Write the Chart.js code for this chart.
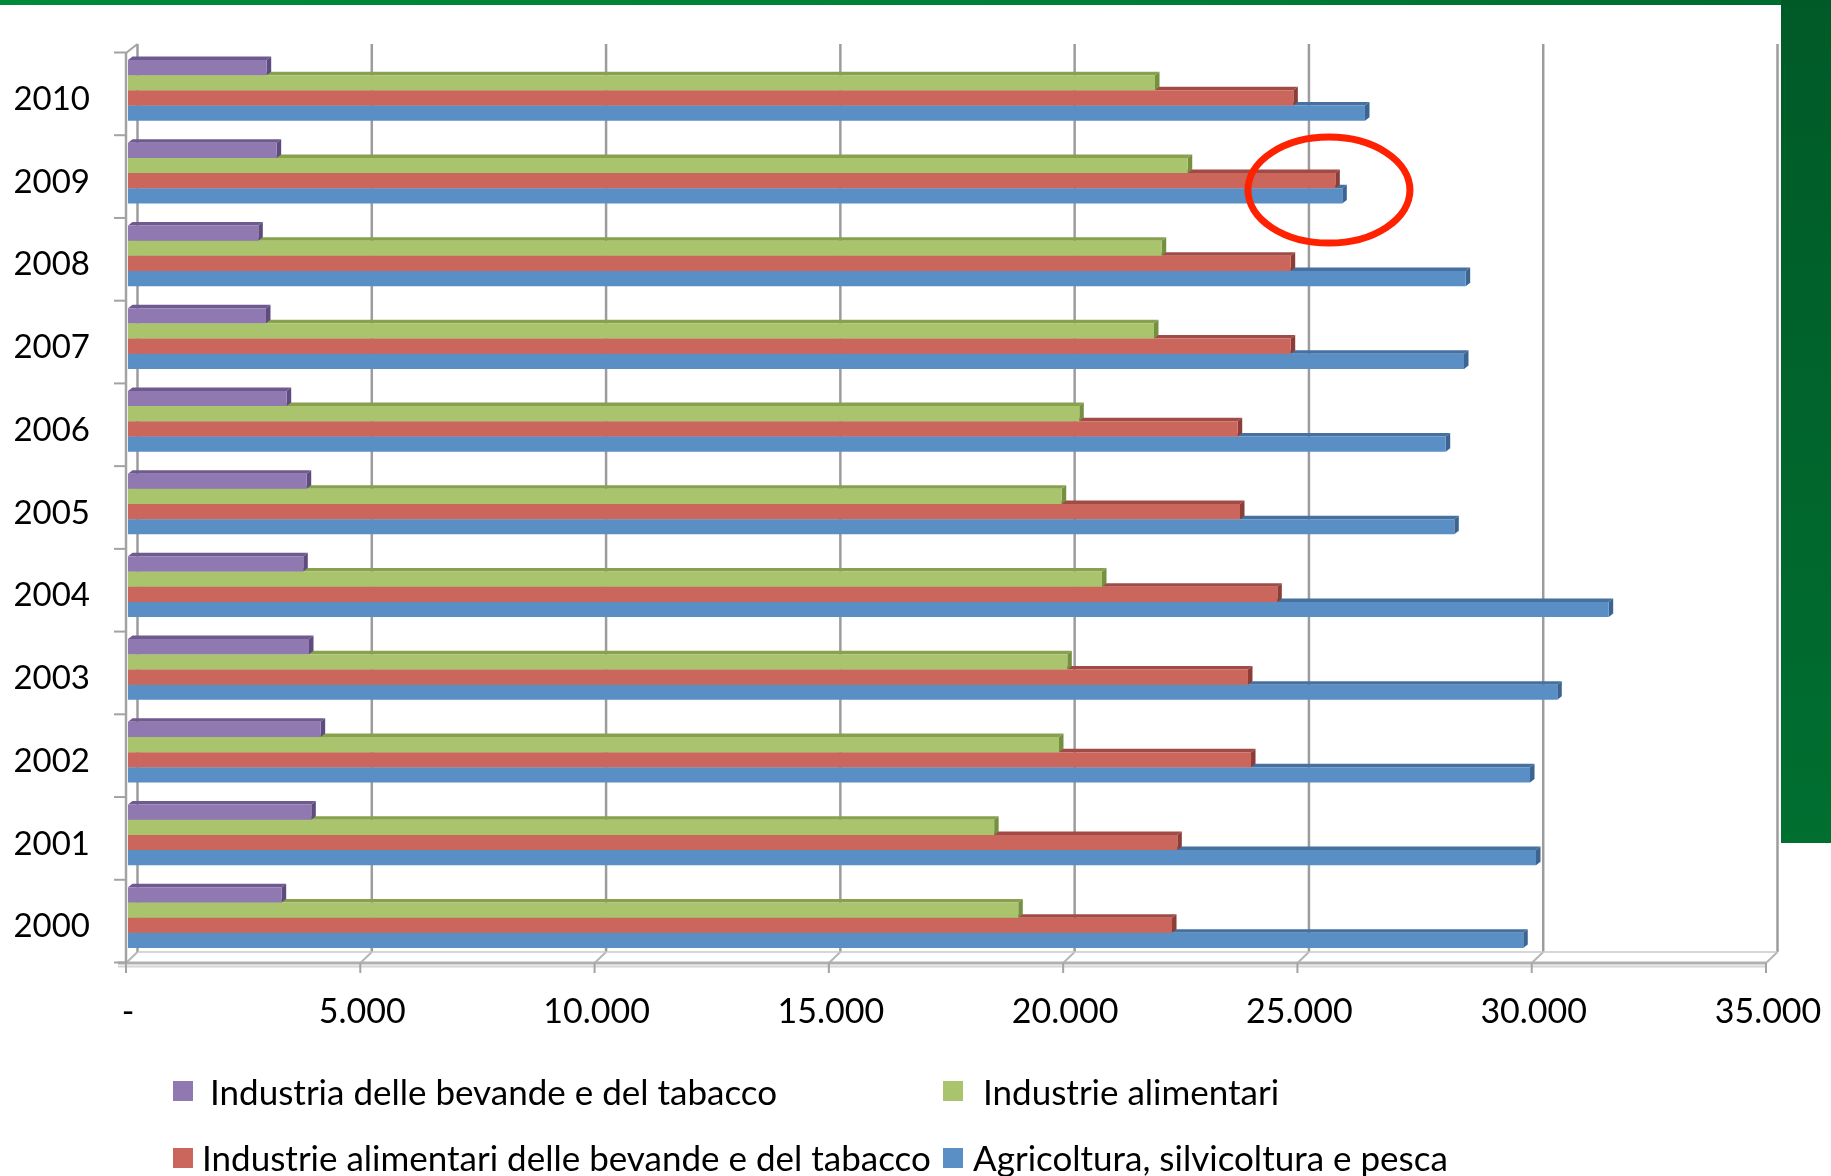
<!DOCTYPE html>
<html><head><meta charset="utf-8">
<script src="https://cdn.jsdelivr.net/npm/chart.js@4.4.0/dist/chart.umd.min.js"></script>
<style>
html,body{margin:0;padding:0;background:#fff;overflow:hidden;}
#wrap{position:relative;width:1831px;height:1176px;background:#fff;}
#c{position:absolute;left:0;top:0;}
#topbar{position:absolute;left:0;top:0;width:1831px;height:5px;background:linear-gradient(90deg,#008a3a,#007f36 60%,#006a2e);}
#sidebar{position:absolute;left:1781px;top:0;width:50px;height:843px;background:linear-gradient(180deg,#005a27,#006f30);}
.leg{position:absolute;font-family:Lato,"Open Sans",sans-serif;font-size:35px;color:#000;white-space:nowrap;line-height:40px;height:40px;}
.sw{position:absolute;width:20px;height:20px;}
</style></head>
<body>
<div id="wrap">
<canvas id="c" width="1831" height="1176"></canvas>
<div id="topbar"></div>
<div id="sidebar"></div>
<div id="legend"></div>
</div>
<script>
// ---- data ----
const years = ['2010','2009','2008','2007','2006','2005','2004','2003','2002','2001','2000'];
const seriesNames = [
  'Industria delle bevande e del tabacco',
  'Industrie alimentari',
  'Industrie alimentari delle bevande e del tabacco',
  'Agricoltura, silvicoltura e pesca'
];
const bevandeTabacco = [2960,3173,2781,2945,3387,3814,3741,3863,4112,3912,3280];
const alimentari     = [21918,22616,22061,21896,20302,19927,20787,20046,19869,18485,19000];
const alimBevTab     = [24870,25766,24814,24814,23683,23732,24528,23902,23967,22394,22281];
const agricoltura    = [26399,25915,28548,28512,28122,28305,31600,30503,29921,30049,29777];
const xTickLabels = ['-','5.000','10.000','15.000','20.000','25.000','30.000','35.000'];
const highlight = {year:'2009', value:25630};

// ---- styles ----
const frontCols = ['#9079b0','#a9c46d','#cb665d','#5a8fc6'];
const topCols   = ['#6f5a90','#87a14f','#a04b45','#46709f'];
const sideCols  = ['#5f4c7e','#75903f','#8c3d37','#3c6492'];
const FONT = 'Lato';

const seriesData = [bevandeTabacco, alimentari, alimBevTab, agricoltura];

const DX = 4.5, DY = -3.5;  // bar depth
const BX = 9.5;             // back wall offset

const frame3d = {
  id: 'frame3d',
  beforeDatasetsDraw(chart) {
    const {ctx, chartArea: a, scales: {x}} = chart;
    const wallTop = a.top - 5, floorBack = a.bottom - 7, floorFront = a.bottom + 4;
    ctx.save();
    ctx.lineCap = 'butt';
    const ticks = x.ticks.map(t => t.value);
    ctx.strokeStyle = '#9c9c9c'; ctx.lineWidth = 2.5;
    ticks.forEach(v => {
      const px = x.getPixelForValue(v) + BX;
      ctx.beginPath(); ctx.moveTo(px, wallTop); ctx.lineTo(px, floorBack); ctx.stroke();
    });
    ctx.strokeStyle = '#b5b5b5'; ctx.lineWidth = 2;
    ticks.forEach(v => {
      const pb = x.getPixelForValue(v) + BX, pf = x.getPixelForValue(v) - 2;
      ctx.beginPath(); ctx.moveTo(pb, floorBack); ctx.lineTo(pf, floorFront); ctx.stroke();
    });
    ctx.strokeStyle = '#c8c8c8'; ctx.lineWidth = 1.5;
    ctx.beginPath();
    ctx.moveTo(x.getPixelForValue(0) + BX, floorBack);
    ctx.lineTo(x.getPixelForValue(35000) + BX, floorBack); ctx.stroke();
    const x0f = x.getPixelForValue(0) - 2, x1f = x.getPixelForValue(35000) - 2;
    ctx.strokeStyle = '#b0b0b0'; ctx.lineWidth = 3;
    ctx.beginPath(); ctx.moveTo(x0f - 8, floorFront); ctx.lineTo(x1f, floorFront); ctx.stroke();
    ctx.strokeStyle = '#d4d4d4'; ctx.lineWidth = 2;
    ctx.beginPath(); ctx.moveTo(x0f - 8, floorFront + 3.5); ctx.lineTo(x1f, floorFront + 3.5); ctx.stroke();
    ctx.strokeStyle = '#a3a3a3'; ctx.lineWidth = 2;
    ticks.forEach(v => {
      const pf = x.getPixelForValue(v) - 2;
      ctx.beginPath(); ctx.moveTo(pf, floorFront); ctx.lineTo(pf, floorFront + 10); ctx.stroke();
    });
    ctx.strokeStyle = '#a3a3a3'; ctx.lineWidth = 2.5;
    ctx.beginPath(); ctx.moveTo(x0f, a.top + 4); ctx.lineTo(x0f, floorFront); ctx.stroke();
    ctx.lineWidth = 2;
    ctx.beginPath(); ctx.moveTo(x0f, a.top + 4); ctx.lineTo(x.getPixelForValue(0) + BX, wallTop); ctx.stroke();
    const n = years.length, band = a.height / n;
    for (let k = 0; k <= n; k++) {
      const yy = a.top + k * band + 3.5;
      ctx.beginPath(); ctx.moveTo(x0f - 12, yy); ctx.lineTo(x0f, yy); ctx.stroke();
    }
    ctx.restore();
  },
  beforeDatasetDraw(chart, args) {
    const ctx = chart.ctx, i = args.index;
    ctx.save();
    args.meta.data.forEach(el => {
      const p = el.getProps(['x','y','base','height'], true);
      const t = p.y - p.height / 2, b = p.y + p.height / 2;
      ctx.fillStyle = topCols[i];
      ctx.beginPath();
      ctx.moveTo(p.base, t); ctx.lineTo(p.base + DX, t + DY);
      ctx.lineTo(p.x + DX, t + DY); ctx.lineTo(p.x, t); ctx.closePath(); ctx.fill();
      ctx.fillStyle = sideCols[i];
      ctx.beginPath();
      ctx.moveTo(p.x, t); ctx.lineTo(p.x + DX, t + DY);
      ctx.lineTo(p.x + DX, b + DY); ctx.lineTo(p.x, b); ctx.closePath(); ctx.fill();
    });
    ctx.restore();
  },
  afterDatasetsDraw(chart) {
    const {ctx, scales: {x, y}} = chart;
    const cx = x.getPixelForValue(highlight.value);
    const cy = y.getPixelForValue(years.indexOf(highlight.year)) + 17;
    ctx.save();
    ctx.strokeStyle = '#ff2200'; ctx.lineWidth = 7;
    ctx.beginPath(); ctx.ellipse(cx, cy, 81, 53, 0, 0, Math.PI * 2); ctx.stroke();
    ctx.restore();
  }
};

new Chart(document.getElementById('c'), {
  type: 'bar',
  data: {
    labels: years,
    datasets: seriesData.map((d, i) => ({
      label: seriesNames[i], data: d,
      backgroundColor: frontCols[i], borderWidth: 0,
      barPercentage: 1, categoryPercentage: 0.734
    }))
  },
  options: {
    indexAxis: 'y',
    responsive: false, animation: false, devicePixelRatio: 1,
    layout: {padding: {top: 49, right: 63, left: 0, bottom: 0}},
    plugins: {legend: {display: false}, tooltip: {enabled: false}},
    scales: {
      x: {
        min: 0, max: 35000,
        grid: {display: false, drawTicks: false}, border: {display: false},
        ticks: {stepSize: 5000, padding: 33, color: '#000', font: {family: FONT, size: 34},
          maxRotation: 0, autoSkip: false,
          callback: (v, idx) => xTickLabels[idx]},
        afterFit: s => { s.height = 217; s.paddingLeft = 0; s.paddingRight = 0; }
      },
      y: {
        grid: {display: false, drawTicks: false}, border: {display: false},
        ticks: {padding: 38, labelOffset: 9, color: '#000', font: {family: FONT, size: 33}},
        afterFit: s => { s.width = 128; s.paddingTop = 0; s.paddingBottom = 0; }
      }
    }
  },
  plugins: [frame3d]
});

// legend (HTML)
const legPos = [
  {sx:173, sy:1081, tx:210, ty:1071},
  {sx:943, sy:1081, tx:983, ty:1071},
  {sx:173, sy:1148, tx:202, ty:1137},
  {sx:943, sy:1148, tx:973, ty:1137}
];
const L = document.getElementById('legend');
seriesNames.forEach((name, i) => {
  const p = legPos[i];
  const s = document.createElement('div');
  s.className = 'sw'; s.style.left = p.sx + 'px'; s.style.top = p.sy + 'px';
  s.style.background = frontCols[i];
  L.appendChild(s);
  const t = document.createElement('div');
  t.className = 'leg'; t.style.left = p.tx + 'px'; t.style.top = p.ty + 'px';
  t.textContent = name;
  L.appendChild(t);
});
</script>
</body></html>
